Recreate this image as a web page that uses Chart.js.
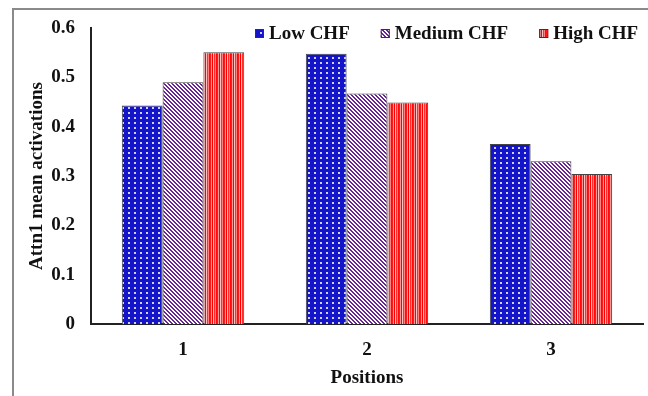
<!DOCTYPE html>
<html>
<head>
<meta charset="utf-8">
<script src="https://cdn.jsdelivr.net/npm/chart.js@4"></script>
<style>
  html, body { margin: 0; padding: 0; background: #fff; overflow: hidden; }
  #wrap { position: relative; width: 648px; height: 396px; }
  #frame { position: absolute; left: 12px; top: 8px; width: 700px; height: 450px;
           border-left: 2px solid #8a8a8a; border-top: 2px solid #8a8a8a; }
  #radar { position: absolute; left: 0; top: 0; }
</style>
</head>
<body>
<div id="wrap">
  <div id="frame"></div>
  <canvas id="radar" width="648" height="396"></canvas>
</div>
<script>
var positions = ["1", "2", "3"];
var seriesNames = ["Low CHF", "Medium CHF", "High CHF"];
var lowCHF = [0.443, 0.548, 0.365];
var mediumCHF = [0.490, 0.467, 0.330];
var highCHF = [0.551, 0.449, 0.304];
var yTicks = [0, 0.1, 0.2, 0.3, 0.4, 0.5, 0.6];

var serif = "'Liberation Serif', 'Times New Roman', serif";

// small tiles used as bar fills
function tile(w, h, paint) {
  var c = document.createElement('canvas');
  c.width = w; c.height = h;
  var g = c.getContext('2d');
  paint(g);
  return g.createPattern(c, 'repeat');
}

var dotFill = tile(6, 5, function (g) {
  g.fillStyle = '#1414c8';
  g.fillRect(0, 0, 6, 5);
  g.fillStyle = '#d0d0ff';
  g.fillRect(2, 2, 2, 2);
});

// "\" stripes, 2px purple / 2px white
var diagFill = tile(4, 4, function (g) {
  g.fillStyle = '#ffffff';
  g.fillRect(0, 0, 4, 4);
  g.fillStyle = '#6a2496';
  for (var i = 0; i < 4; i++) {
    g.fillRect(i, i, 1, 1);
    g.fillRect((i + 1) % 4, i, 1, 1);
  }
});

var stripeFill = tile(7, 1, function (g) {
  var cols = ['#ff1a1a', '#ff9a9a', '#ff0000', '#ffc0c0', '#ff3030', '#ff8080', '#ff0a0a'];
  for (var i = 0; i < 7; i++) {
    g.fillStyle = cols[i];
    g.fillRect(i, 0, 1, 1);
  }
});

var fills = [dotFill, diagFill, stripeFill];

// legend drawn along the top edge of the plot
var topLegend = {
  id: 'topLegend',
  afterDraw: function (chart) {
    var ctx = chart.ctx;
    var x = 255, y = 33;
    ctx.save();
    ctx.font = 'bold 19px ' + serif;
    ctx.textBaseline = 'middle';
    chart.data.datasets.forEach(function (ds) {
      ctx.fillStyle = ds.backgroundColor;
      ctx.fillRect(x, y - 4, 9, 9);
      ctx.strokeStyle = '#333';
      ctx.lineWidth = 1;
      ctx.strokeRect(x + 0.5, y - 3.5, 8, 8);
      ctx.fillStyle = '#111';
      ctx.fillText(ds.label, x + 14, y + 1);
      x += 14 + ctx.measureText(ds.label).width + 31;
    });
    ctx.restore();
  }
};

var config = {
  type: 'bar',
  data: {
    labels: positions,
    datasets: [
      { label: seriesNames[0], data: lowCHF, backgroundColor: fills[0] },
      { label: seriesNames[1], data: mediumCHF, backgroundColor: fills[1] },
      { label: seriesNames[2], data: highCHF, backgroundColor: fills[2] }
    ]
  },
  options: {
    responsive: false,
    animation: false,
    layout: { padding: { top: 28, right: 5, left: 0, bottom: 0 } },
    datasets: {
      bar: {
        borderColor: '#444',
        borderWidth: 1,
        borderSkipped: 'bottom',
        categoryPercentage: 0.665,
        barPercentage: 1.0
      }
    },
    plugins: {
      legend: { display: false },
      tooltip: { enabled: false }
    },
    scales: {
      x: {
        grid: { display: false, drawTicks: false },
        border: { color: '#222', width: 2 },
        ticks: { color: '#111', padding: 15, font: { family: serif, size: 19, weight: 'bold' } },
        title: {
          display: true, text: 'Positions', color: '#111',
          padding: { top: 0, bottom: 7 },
          font: { family: serif, size: 19, weight: 'bold' }
        },
        afterFit: function (s) { s.height = 72; }
      },
      y: {
        min: 0, max: 0.6,
        afterBuildTicks: function (s) { s.ticks = yTicks.map(function (v) { return { value: v }; }); },
        grid: { display: false, drawTicks: false },
        border: { color: '#222', width: 2 },
        ticks: {
          color: '#111', padding: 16,
          font: { family: serif, size: 19, weight: 'bold' },
          callback: function (v) { return String(Math.round(v * 10) / 10); }
        },
        title: {
          display: true, text: 'Attn1 mean activations', color: '#111',
          padding: { top: 26, bottom: 0 },
          font: { family: serif, size: 19, weight: 'bold' }
        },
        afterFit: function (s) { s.width = 91; }
      }
    }
  },
  plugins: [topLegend]
};

new Chart(document.getElementById('radar'), config);
</script>
</body>
</html>
